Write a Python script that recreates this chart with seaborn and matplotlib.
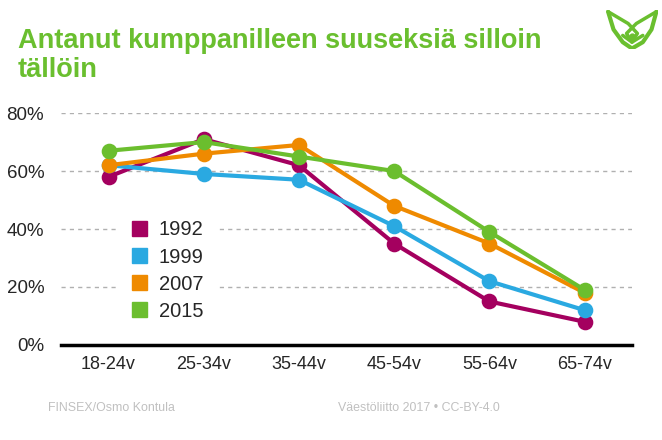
import seaborn as sns
import matplotlib.pyplot as plt
import matplotlib.patches as mpatches
import pandas as pd

# --- data ---
ages = ["18-24v", "25-34v", "35-44v", "45-54v", "55-64v", "65-74v"]
years = ["1992", "1999", "2007", "2015"]
v1992 = [58, 71, 62, 35, 15, 8]
v1999 = [62, 59, 57, 41, 22, 12]
v2007 = [62, 66, 69, 48, 35, 18]
v2015 = [67, 70, 65, 60, 39, 19]
colors = ["#A4005F", "#2AA9E1", "#EF8A00", "#6BBE2E"]

rows = []
for year, vals in zip(years, [v1992, v1999, v2007, v2015]):
    for age, v in zip(ages, vals):
        rows.append([year, age, v])
df = pd.DataFrame(rows, columns=["year", "age", "value"])

sns.set_style("white")
plt.rcParams["font.family"] = ["Liberation Sans", "DejaVu Sans"]

fig = plt.figure(figsize=(6.62, 4.4), dpi=100)
ax = fig.add_axes([0.092, 0.216, 0.863, 0.527])

sns.pointplot(data=df, x="age", y="value", hue="year", order=ages,
              hue_order=years, palette=colors, markers="o",
              markersize=9, linewidth=3, ax=ax, legend=False, zorder=3)

ax.set_ylim(0, 80)
ax.set_xlim(-0.5, 5.5)
ax.set_yticks([0, 20, 40, 60, 80])
ax.set_yticklabels([f"{t}%" for t in [0, 20, 40, 60, 80]], fontsize=13.5)
ax.tick_params(axis="x", labelsize=13, length=0, pad=8)
ax.tick_params(axis="y", length=0, pad=12)
ax.set_xlabel("")
ax.set_ylabel("")
for t in [20, 40, 60, 80]:
    ax.axhline(t, color="#b0b0b0", lw=1, ls=(0, (3, 3)), zorder=1)
for s in ["top", "right", "left"]:
    ax.spines[s].set_visible(False)
ax.spines["bottom"].set_color("black")
ax.spines["bottom"].set_linewidth(2.5)

handles = [mpatches.Patch(color=c, label=y) for c, y in zip(colors, years)]
leg = ax.legend(handles=handles, loc="upper left", bbox_to_anchor=(0.113, 0.563),
                frameon=True, fontsize=14.5, handlelength=0.75, handleheight=0.75,
                handletextpad=0.6, labelspacing=0.4, borderpad=0.3,
                borderaxespad=0)
leg.get_frame().set_edgecolor("white")
leg.get_frame().set_facecolor("white")
leg.get_frame().set_alpha(1)
leg.get_frame().set_boxstyle("square", pad=0.4)
leg.set_zorder(2)

fig.text(0.027, 0.937, "Antanut kumppanilleen suuseksiä silloin\ntällöin",
         fontsize=19.5, fontweight="bold", color="#6ABF2F", va="top",
         ha="left", linespacing=1.15)

fig.text(0.073, 0.066, "FINSEX/Osmo Kontula", fontsize=8.9, color="#c0c0c0")
fig.text(0.755, 0.066, "Väestöliitto 2017 • CC-BY-4.0", fontsize=8.9,
         color="#c0c0c0", ha="right")

# simple logo outline, top right
logo = fig.add_axes([0.912, 0.888, 0.082, 0.09])
logo.axis("off")
logo.set_xlim(0, 1)
logo.set_ylim(0, 1)
g = "#6ABF2F"
logo.plot([0.08, 0.18, 0.35, 0.52], [0.95, 0.5, 0.18, 0.02], color=g, lw=3,
          solid_capstyle="round")
logo.plot([0.97, 0.88, 0.72, 0.52], [0.95, 0.5, 0.18, 0.02], color=g, lw=3,
          solid_capstyle="round")
logo.plot([0.08, 0.45, 0.62, 0.52, 0.35], [0.95, 0.65, 0.4, 0.18, 0.35],
          color=g, lw=2.5, solid_capstyle="round")
logo.plot([0.97, 0.6, 0.42, 0.52, 0.72], [0.95, 0.65, 0.4, 0.18, 0.35],
          color=g, lw=2.5, solid_capstyle="round")
logo.plot([0.52], [0.33], "o", color=g, markersize=3.5)

fig.savefig("out.png", dpi=100)
